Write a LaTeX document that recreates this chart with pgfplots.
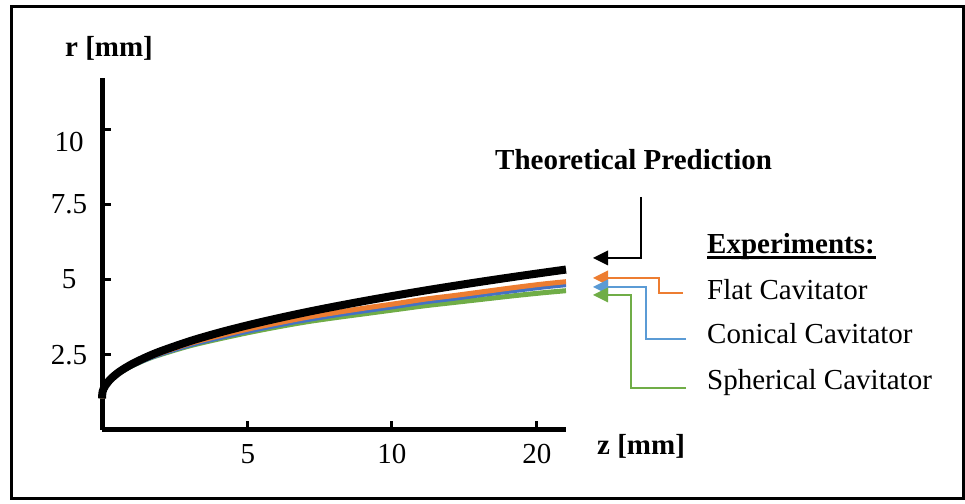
\documentclass[border=0pt]{standalone}
\usepackage{fontspec}
\setmainfont{Liberation Serif}
\usepackage{pgfplots}
\usepackage{pgfplotstable}
\pgfplotsset{compat=1.18}
\definecolor{corange}{HTML}{ED7D31}
\definecolor{cblue}{HTML}{4472C4}
\definecolor{cblueL}{HTML}{5B9BD5}
\definecolor{cgreen}{HTML}{70AD47}
\pgfplotstableread{
z     theory  flat   conical  spherical
0     1.05    1.05   1.05     1.05
0.02  1.27    1.27   1.27     1.27
0.1   1.455   1.45   1.45     1.45
0.3   1.70    1.69   1.69     1.68
0.6   1.941   1.93   1.92     1.91
1     2.18    2.15   2.13     2.12
1.5   2.418   2.38   2.35     2.34
2     2.619   2.56   2.53     2.51
3     2.956   2.88   2.83     2.80
4     3.24    3.13   3.07     3.03
5     3.49    3.36   3.29     3.24
6     3.716   3.56   3.49     3.43
7     3.925   3.75   3.67     3.60
8     4.118   3.91   3.83     3.74
9     4.30    4.06   3.97     3.87
10    4.472   4.20   4.11     4.00
11    4.636   4.35   4.26     4.13
12    4.792   4.47   4.38     4.24
13    4.942   4.60   4.51     4.35
14    5.086   4.73   4.63     4.46
15    5.225   4.85   4.75     4.56
15.8  5.333   4.93   4.83     4.63
}\datatable
\begin{document}
\fontsize{29bp}{35bp}\selectfont
\begin{tikzpicture}[x=1bp,y=1bp]
\useasboundingbox (0,0) rectangle (965,504);
\draw[line width=3bp] (11,5) rectangle (963,497);
\begin{axis}[
  at={(102bp,74bp)}, anchor=south west,
  width=464bp, height=352bp, scale only axis,
  xmin=0, xmax=15.8, ymin=0, ymax=11.7,
  axis x line*=bottom, axis y line*=left,
  axis line style={line width=5bp, -},
  tick align=inside, major tick length=9bp,
  every tick/.style={line width=3bp, black},
  xtick={4.97,9.87,14.81}, xticklabels={5,10,20},
  ytick={2.5,5,7.5,10}, yticklabels={2.5,5,7.5,\raisebox{-13bp}[\height][\depth]{10}},
  tick label style={font=\fontsize{29bp}{35bp}\selectfont},
  xticklabel style={anchor=center, yshift=-24bp},
  yticklabel style={anchor=center, xshift=-33bp},
  clip=false,
]
\addplot[cgreen, line width=5bp, smooth] table[x=z, y=spherical] {\datatable};
\addplot[cblue, line width=5bp, smooth] table[x=z, y=conical] {\datatable};
\addplot[corange, line width=5bp, smooth] table[x=z, y=flat] {\datatable};
\addplot[black, line width=8bp, smooth] table[x=z, y=theory] {\datatable};
\end{axis}
% labels
\node[anchor=base, font=\bfseries] at (109,447) {r [mm]};
\node[anchor=base west, font=\bfseries, inner sep=0pt] at (597,49) {z [mm]};
\node[anchor=base west, font=\bfseries, inner sep=0pt] at (495,334) {Theoretical Prediction};
\node[anchor=base west, font=\bfseries, inner sep=0pt] at (707,250) {Experiments:};
\draw[line width=2.5bp] (707,246.5) -- (876,246.5);
\node[anchor=base west, inner sep=0pt] at (707,204) {Flat Cavitator};
\node[anchor=base west, inner sep=0pt] at (707,160) {Conical Cavitator};
\node[anchor=base west, inner sep=0pt] at (707,114) {Spherical Cavitator};
% arrows
\draw[line width=2bp, black] (641,307) -- (641,246) -- (606,246);
\fill[black] (593,246) -- (608,253.5) -- (608,238.5) -- cycle;
\draw[line width=2bp, corange] (683,211) -- (659,211) -- (659,226) -- (606,226);
\fill[corange] (593,226) -- (608,233.5) -- (608,218.5) -- cycle;
\draw[line width=2bp, cblueL] (686,165) -- (646,165) -- (646,217) -- (606,217);
\fill[cblueL] (593,217) -- (608,224.5) -- (608,209.5) -- cycle;
\draw[line width=2bp, cgreen] (686,116) -- (631,116) -- (631,209) -- (606,209);
\fill[cgreen] (593,209) -- (608,216.5) -- (608,201.5) -- cycle;
\end{tikzpicture}
\end{document}
